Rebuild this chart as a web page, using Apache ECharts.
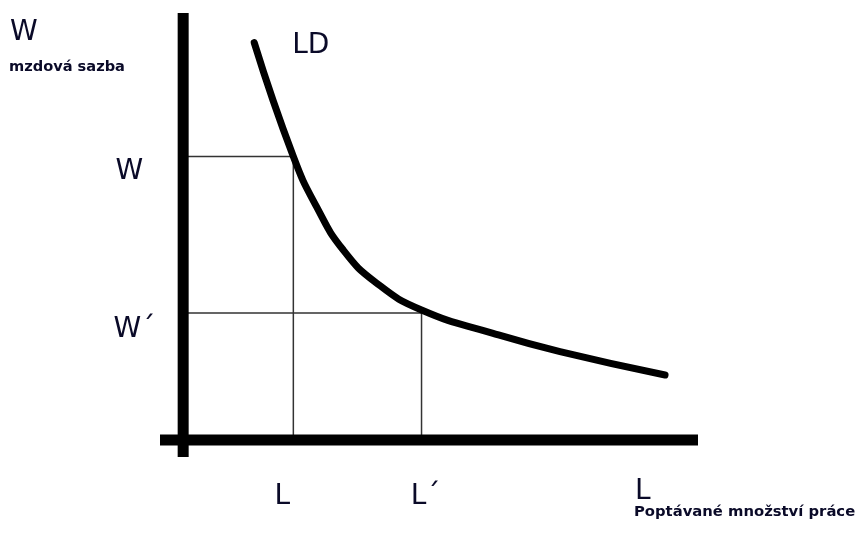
<!DOCTYPE html>
<html>
<head>
<meta charset="utf-8">
<title>LD</title>
<script src="https://cdn.jsdelivr.net/npm/echarts@6/dist/echarts.min.js"></script>
<style>
  html, body { margin: 0; padding: 0; background: #fff; }
  #chart { width: 859px; height: 533px; }
</style>
</head>
<body>
<div id="chart"></div>
<script>
// krivka poptavky po praci (LD), odectene body
var ldX = [13.8, 21.4, 25.9, 31.1, 37.6, 46.3, 60.2, 73.2, 93.6];
var ldY = [93.5, 66.7, 54.9, 44.7, 36.9, 30.6, 25.1, 20.8, 15.3];

// mzdy a mnozstvi prace
var wageVals = [66.7, 29.9];       // W, W´
var wageLabels = ['W', 'W´'];
var laborVals = [21.4, 46.3];      // L, L´
var laborLabels = ['L', 'L´'];
var axisEndLabel = 'L';
var axisEndX = 89.3;

var textColor = '#0a0a28';
var font = 'DejaVu Sans';

var chart = echarts.init(document.getElementById('chart'));

var curve = ldX.map(function (x, i) { return [x, ldY[i]]; });

// pomocne cary
var guides = [];
wageVals.forEach(function (w, i) {
  guides.push({
    type: 'line', silent: true, symbol: 'none',
    lineStyle: { color: '#333', width: 1.5 },
    data: [[0, w], [laborVals[i], w], [laborVals[i], 0]]
  });
});

function bigLabel(text, pos, dist, off) {
  return {
    formatter: text, position: pos, distance: dist, offset: off,
    fontSize: 28, fontFamily: font, color: textColor, opacity: 1
  };
}

// popisky
var labelData = [];
labelData.push({ value: [ldX[0], ldY[0]], label: bigLabel('LD', 'right', 38, [0, 3]) });
wageVals.forEach(function (w, i) {
  labelData.push({
    value: [0, w],
    label: bigLabel(wageLabels[i], 'left', i === 0 ? 40 : 28, [0, i === 0 ? 15 : 17])
  });
});
laborVals.forEach(function (l, i) {
  labelData.push({
    value: [l, 0],
    label: bigLabel(laborLabels[i], 'bottom', 43, [i === 0 ? -11 : 4, 0])
  });
});
labelData.push({ value: [axisEndX, 0], label: bigLabel(axisEndLabel, 'bottom', 38, [0, 0]) });

var option = {
  backgroundColor: '#fff',
  animation: false,
  grid: { left: 160, right: 161, top: 15, bottom: 76 },
  xAxis: {
    type: 'value', min: -4.5, max: 100,
    axisLine: { show: false }, axisTick: { show: false }, axisLabel: { show: false }, splitLine: { show: false }
  },
  yAxis: {
    type: 'value', min: -4, max: 100,
    axisLine: { show: false }, axisTick: { show: false }, axisLabel: { show: false }, splitLine: { show: false }
  },
  graphic: [
    { type: 'text', left: 10, top: 19, style: { text: 'W', fontSize: 28, fontFamily: font, fill: textColor } },
    { type: 'text', left: 9, top: 60, style: { text: 'mzdová sazba', fontSize: 14.6, fontWeight: 'bold', fontFamily: font, fill: textColor } },
    { type: 'text', left: 634, top: 505, style: { text: 'Poptávané množství práce', fontSize: 14.8, fontWeight: 'bold', fontFamily: font, fill: textColor } }
  ],
  series: guides.concat([
    {
      // osy
      type: 'line', silent: true, symbol: 'none',
      lineStyle: { color: '#000', width: 11 },
      data: [[-4.5, 0], [100, 0]]
    },
    {
      type: 'line', silent: true, symbol: 'none',
      lineStyle: { color: '#000', width: 11 },
      data: [[0, -4], [0, 100.5]]
    },
    {
      name: 'LD',
      type: 'line', silent: true, smooth: 0.5,
      symbol: 'none',
      lineStyle: { color: '#000', width: 7, cap: 'round' },
      data: curve
    },
    {
      type: 'scatter', silent: true, symbolSize: 0,
      label: { show: true },
      data: labelData
    }
  ])
};

chart.setOption(option);
</script>
</body>
</html>
